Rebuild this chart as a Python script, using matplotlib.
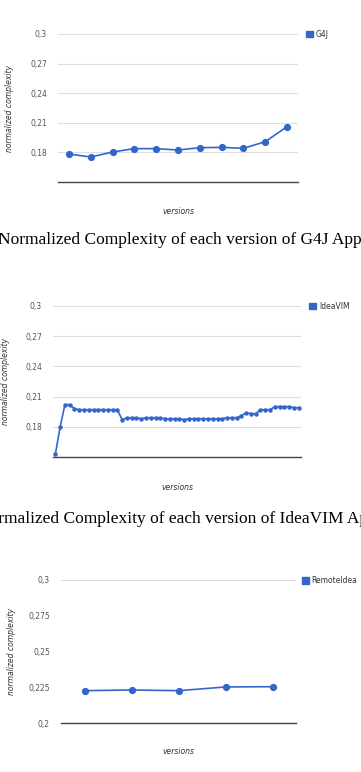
import matplotlib.pyplot as plt
from matplotlib.patches import Patch

# --- data ---
g4j_vals = [0.1784, 0.1753, 0.1804, 0.1838, 0.1838, 0.1824, 0.1848, 0.1851,
            0.1841, 0.1909, 0.2061]
idea_vals = [0.153, 0.180, 0.202, 0.202, 0.198, 0.197, 0.197, 0.197, 0.197,
             0.197, 0.197, 0.197, 0.197, 0.197, 0.187, 0.189, 0.189, 0.189,
             0.188, 0.189, 0.189, 0.189, 0.189, 0.188, 0.188, 0.188, 0.188,
             0.187, 0.188, 0.188, 0.188, 0.188, 0.188, 0.188, 0.188, 0.188,
             0.189, 0.189, 0.189, 0.191, 0.194, 0.193, 0.193, 0.197, 0.197,
             0.197, 0.200, 0.200, 0.200, 0.200, 0.199, 0.199]
remote_vals = [0.2226, 0.2231, 0.2226, 0.2252, 0.2254]

g4j_ticks = [0.15, 0.18, 0.21, 0.24, 0.27, 0.30]
g4j_ticklabels = ["", "0,18", "0,21", "0,24", "0,27", "0,3"]
idea_ticks = [0.15, 0.18, 0.21, 0.24, 0.27, 0.30]
idea_ticklabels = ["", "0,18", "0,21", "0,24", "0,27", "0,3"]
remote_ticks = [0.2, 0.225, 0.25, 0.275, 0.3]
remote_ticklabels = ["0,2", "0,225", "0,25", "0,275", "0,3"]

captions = ["Normalized Complexity of each version of G4J Application",
            "Normalized Complexity of each version of IdeaVIM Application"]

BLUE = "#3366cc"
W, H = 361, 772
fig = plt.figure(figsize=(W / 100, H / 100), dpi=100)


def px_axes(left, right, top, bottom):
    return fig.add_axes([left / W, 1 - bottom / H, (right - left) / W, (bottom - top) / H])


def panel(ax, vals, ticks, labels, ylim, grid, name, ms, ylab_x, leg_x):
    x = list(range(len(vals)))
    ax.plot(x, vals, color=BLUE, lw=1.2, marker="o", ms=ms, mec=BLUE, mfc=BLUE)
    ax.set_xlim(-0.5, len(vals) - 0.5)
    ax.set_ylim(*ylim)
    for s in ax.spines.values():
        s.set_visible(False)
    for g in grid:
        ax.axhline(g, color="#dddddd", lw=0.8, zorder=0)
    ax.axhline(ylim[0], color="#444444", lw=1.0, zorder=1, clip_on=False)
    ax.set_xticks([])
    ax.set_yticks(ticks)
    ax.set_yticklabels(labels, fontsize=5.5, color="#555555")
    ax.tick_params(axis="y", length=0, pad=8)
    ax.text(ylab_x, 0.5, "normalized complexity", transform=ax.transAxes,
            rotation=90, ha="center", va="center", fontsize=5.5,
            style="italic", color="#333333")
    ax.text(0.5, -0.2, "versions", transform=ax.transAxes, ha="center",
            va="center", fontsize=5.5, style="italic", color="#333333")
    ax.legend(handles=[Patch(color=BLUE, label=name)], loc="upper left",
              bbox_to_anchor=(leg_x, 1.06), frameon=False, fontsize=5.5,
              handlelength=0.9, handleheight=0.9, handletextpad=0.4,
              borderaxespad=0.2, labelcolor="#333333")


ax1 = px_axes(58, 298, 34, 182)
panel(ax1, g4j_vals, g4j_ticks, g4j_ticklabels, (0.15, 0.30),
      [0.18, 0.21, 0.24, 0.27, 0.30], "G4J", 4.2, -0.2, 1.015)

ax2 = px_axes(53, 301, 306, 457)
panel(ax2, idea_vals, idea_ticks, idea_ticklabels, (0.15, 0.30),
      [0.18, 0.21, 0.24, 0.27, 0.30], "IdeaVIM", 2.2, -0.19, 1.015)

ax3 = px_axes(61, 296, 580, 723)
panel(ax3, remote_vals, remote_ticks, remote_ticklabels, (0.2, 0.3),
      [0.3], "RemoteIdea", 4.2, -0.21, 1.005)

# captions (page text, cut off by the page crop)
fig.text(-2 / W, 1 - 244 / H, captions[0], fontsize=12.5,
         family="Liberation Serif", ha="left", va="baseline")
fig.text(-23 / W, 1 - 523 / H, captions[1], fontsize=12.5,
         family="Liberation Serif", ha="left", va="baseline")

fig.savefig("out.png", dpi=100)
